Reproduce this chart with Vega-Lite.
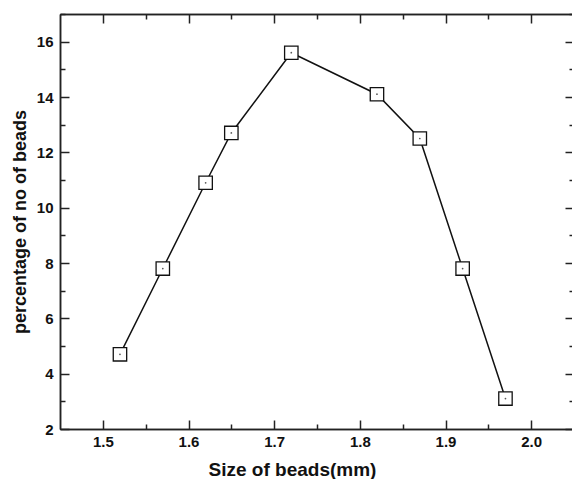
{
  "$schema": "https://vega.github.io/schema/vega-lite/v6.json",
  "width": 514,
  "height": 415,
  "autosize": "none",
  "padding": {"left": 60, "top": 14, "right": 0, "bottom": 50},
  "background": "white",
  "config": {
    "view": {"stroke": null},
    "axis": {
      "grid": false,
      "domainColor": "#222",
      "domainWidth": 1.5,
      "tickColor": "#222",
      "tickWidth": 1.5,
      "labelFont": "Liberation Sans",
      "labelFontWeight": "bold",
      "labelFontSize": 15,
      "labelColor": "#111",
      "titleFont": "Liberation Sans",
      "titleFontWeight": "bold",
      "titleFontSize": 18,
      "titleColor": "#111"
    }
  },
  "data": {"values": [
    {"size": 1.52, "pct": 4.7},
    {"size": 1.57, "pct": 7.8},
    {"size": 1.62, "pct": 10.9},
    {"size": 1.65, "pct": 12.7},
    {"size": 1.72, "pct": 15.6},
    {"size": 1.82, "pct": 14.1},
    {"size": 1.87, "pct": 12.5},
    {"size": 1.92, "pct": 7.8},
    {"size": 1.97, "pct": 3.1}
  ]},
  "resolve": {"axis": {"x": "independent", "y": "independent"}},
  "layer": [
    {
      "mark": {"type": "line", "color": "#111", "strokeWidth": 1.5},
      "encoding": {
        "x": {"field": "size", "type": "quantitative", "scale": {"domain": [1.45, 2.05], "nice": false, "zero": false},
          "axis": {"orient": "bottom", "title": "Size of beads(mm)", "titleFontSize": 19, "titleX": 232, "titleAlign": "center", "values": [1.5, 1.6, 1.7, 1.8, 1.9, 2.0], "format": ".1f", "tickSize": -9, "labelPadding": 14, "titlePadding": 11}},
        "y": {"field": "pct", "type": "quantitative", "scale": {"domain": [2, 17], "nice": false, "zero": false},
          "axis": {"orient": "left", "title": "percentage of no of beads", "values": [2, 4, 6, 8, 10, 12, 14, 16], "tickSize": -9, "labelPadding": 16, "titlePadding": 7}}
      }
    },
    {
      "mark": {"type": "point", "shape": "square", "size": 180, "filled": true, "fill": "white", "stroke": "#111", "strokeWidth": 1.3, "opacity": 1},
      "encoding": {
        "x": {"field": "size", "type": "quantitative",
          "axis": {"orient": "top", "title": null, "labels": false, "values": [1.5, 1.6, 1.7, 1.8, 1.9, 2.0], "tickSize": -9}},
        "y": {"field": "pct", "type": "quantitative",
          "axis": {"orient": "right", "title": null, "labels": false, "values": [2, 4, 6, 8, 10, 12, 14, 16], "tickSize": -9}}
      }
    },
    {
      "mark": {"type": "point", "shape": "circle", "size": 3, "filled": true, "color": "#111"},
      "encoding": {
        "x": {"field": "size", "type": "quantitative",
          "axis": {"orient": "bottom", "title": null, "labels": false, "values": [1.55, 1.65, 1.75, 1.85, 1.95, 2.05], "tickSize": -5}},
        "y": {"field": "pct", "type": "quantitative",
          "axis": {"orient": "left", "title": null, "labels": false, "values": [3, 5, 7, 9, 11, 13, 15, 17], "tickSize": -5}}
      }
    },
    {
      "mark": {"type": "point", "opacity": 0},
      "encoding": {
        "x": {"field": "size", "type": "quantitative",
          "axis": {"orient": "top", "title": null, "labels": false, "values": [1.55, 1.65, 1.75, 1.85, 1.95, 2.05], "tickSize": -5}},
        "y": {"field": "pct", "type": "quantitative",
          "axis": {"orient": "right", "title": null, "labels": false, "values": [3, 5, 7, 9, 11, 13, 15, 17], "tickSize": -5}}
      }
    }
  ]
}
